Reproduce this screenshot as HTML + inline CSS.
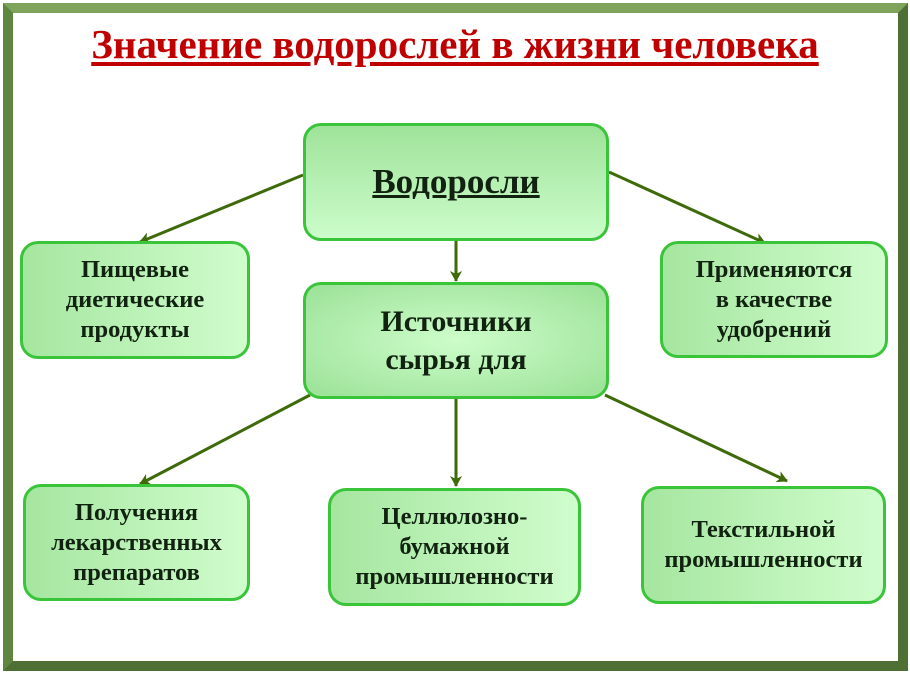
<!DOCTYPE html>
<html><head><meta charset="utf-8"><style>
body{margin:0;width:910px;height:673px;background:#fff;position:relative;overflow:hidden;font-family:"Liberation Serif",serif}
.frame{position:absolute;left:3px;top:3px;width:885px;height:648px;border:10px solid #6a8f4a;border-top-color:#7fa35a;border-left-color:#5f8640;border-right-color:#4f7034;border-bottom-color:#4f7034}
.title{position:absolute;left:0;width:910px;top:20px;text-align:center;color:#c00000;font-weight:bold;font-size:41px;text-decoration:underline;text-decoration-thickness:4px;text-underline-offset:4px}
.b{position:absolute;box-sizing:border-box;border:3px solid #3ac43a;border-radius:18px;background:linear-gradient(#9fe39a,#ccfcca);display:flex;align-items:center;justify-content:center;text-align:center;font-weight:bold;color:#112211;font-size:24.5px;line-height:30px}
.r{background:radial-gradient(ellipse at center,#cdfdca 0%,#a0e49c 90%)}
.h{background:linear-gradient(90deg,#a6e6a0,#d0fdcd)}
svg{position:absolute;left:0;top:0}
</style></head><body>
<div class="frame"></div>
<div class="title">Значение водорослей в жизни человека</div>
<svg width="910" height="673"><defs><marker id="a" markerWidth="12" markerHeight="12" refX="10" refY="6" orient="auto" markerUnits="userSpaceOnUse"><path d="M0,0 L11,6 L0,12 L3,6 Z" fill="#3e6a0a"/></marker></defs>
<g stroke="#3e6a0a" stroke-width="3" marker-end="url(#a)">
<line x1="303" y1="175" x2="140" y2="242"/>
<line x1="609" y1="172" x2="765" y2="243"/>
<line x1="456" y1="241" x2="456" y2="281"/>
<line x1="310" y1="395" x2="140" y2="484"/>
<line x1="456" y1="399" x2="456" y2="486"/>
<line x1="605" y1="395" x2="787" y2="481"/>
</g></svg>
<div class="b" style="left:303px;top:123px;width:306px;height:118px;font-size:35px"><span style="text-decoration:underline;text-decoration-thickness:3px">Водоросли</span></div>
<div class="b r" style="left:303px;top:282px;width:306px;height:117px;font-size:30px;line-height:38px">Источники<br>сырья для</div>
<div class="b h" style="left:20px;top:241px;width:230px;height:118px">Пищевые<br>диетические<br>продукты</div>
<div class="b h" style="left:660px;top:241px;width:228px;height:117px">Применяются<br>в качестве<br>удобрений</div>
<div class="b h" style="left:23px;top:484px;width:227px;height:117px">Получения<br>лекарственных<br>препаратов</div>
<div class="b h" style="left:328px;top:488px;width:253px;height:118px">Целлюлозно-<br>бумажной<br>промышленности</div>
<div class="b h" style="left:641px;top:486px;width:245px;height:118px">Текстильной<br>промышленности</div>
</body></html>
